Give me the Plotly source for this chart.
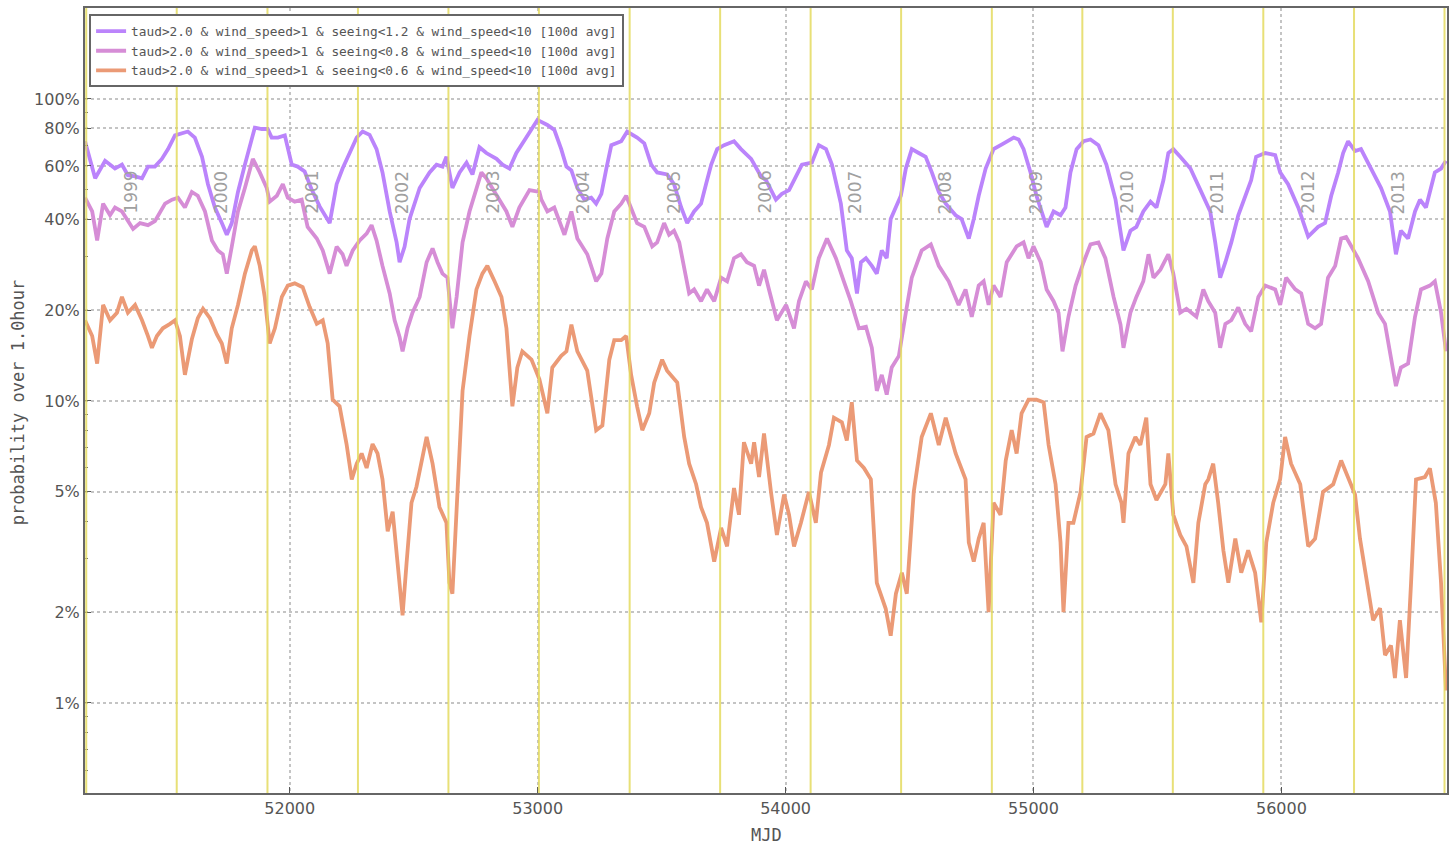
import math
import plotly.graph_objects as go

# ---------------- data ----------------
s1_name = "taud>2.0 & wind_speed>1 & seeing<1.2 & wind_speed<10 [100d avg]"
s2_name = "taud>2.0 & wind_speed>1 & seeing<0.8 & wind_speed<10 [100d avg]"
s3_name = "taud>2.0 & wind_speed>1 & seeing<0.6 & wind_speed<10 [100d avg]"

s1_mjd = [51174, 51215, 51255, 51295, 51323, 51347, 51376, 51404, 51428, 51456, 51484, 51509,
          51537, 51565, 51589, 51617, 51646, 51670, 51698, 51726, 51746, 51766, 51791, 51819,
          51847, 51859, 51887, 51911, 51927, 51952, 51980, 51992, 52008, 52032, 52060, 52089,
          52121, 52161, 52189, 52213, 52242, 52270, 52294, 52322, 52350, 52374, 52403, 52431,
          52443, 52463, 52483, 52524, 52564, 52592, 52616, 52632, 52656, 52685, 52713, 52737,
          52765, 52793, 52834, 52858, 52886, 52914, 52954, 52999, 53039, 53067, 53095, 53116,
          53136, 53160, 53188, 53216, 53236, 53257, 53277, 53297, 53337, 53361, 53401, 53430,
          53458, 53482, 53522, 53550, 53579, 53603, 53631, 53659, 53679, 53700, 53724, 53752,
          53792, 53820, 53861, 53901, 53921, 53961, 53985, 54014, 54042, 54066, 54106, 54134,
          54163, 54187, 54223, 54247, 54267, 54288, 54304, 54324, 54348, 54368, 54388, 54408,
          54424, 54445, 54465, 54485, 54509, 54537, 54565, 54590, 54618, 54646, 54686, 54710,
          54739, 54759, 54779, 54807, 54839, 54880, 54920, 54940, 54960, 54988, 55012, 55053,
          55081, 55109, 55129, 55149, 55174, 55202, 55230, 55262, 55294, 55331, 55351, 55363,
          55391, 55415, 55443, 55472, 55496, 55524, 55544, 55564, 55592, 55633, 55673, 55713,
          55733, 55753, 55774, 55798, 55826, 55854, 55878, 55898, 55935, 55975, 55995, 56027,
          56068, 56108, 56148, 56176, 56201, 56229, 56249, 56269, 56297, 56321, 56362, 56402,
          56438, 56462, 56482, 56511, 56539, 56559, 56583, 56619, 56644, 56664]
s1_pct = [72.4, 54.6, 62.4, 58.8, 60.6, 55.9, 55.4, 54.6, 59.7, 59.7, 63.3, 68.2,
          75.7, 77.0, 78.0, 74.5, 64.3, 52.2, 43.7, 38.8, 35.5, 38.8, 49.2, 60.6,
          74.5, 80.3, 79.5, 79.5, 74.5, 74.5, 75.7, 68.2, 60.6, 59.7, 57.5, 50.0,
          44.0, 38.8, 52.2, 58.8, 66.2, 74.5, 78.0, 76.0, 68.2, 57.1, 42.4, 33.5,
          28.8, 32.4, 40.0, 50.7, 57.1, 60.6, 59.7, 64.3, 50.7, 57.1, 61.5, 56.2,
          69.2, 66.2, 63.3, 60.6, 58.8, 66.2, 74.5, 85.2, 82.0, 79.0, 68.2, 59.7,
          58.0, 50.7, 46.4, 47.1, 45.0, 48.5, 58.8, 70.3, 72.4, 78.0, 74.5, 71.3,
          60.6, 57.1, 56.2, 52.2, 43.7, 38.8, 42.4, 45.0, 52.2, 60.6, 68.2, 70.3,
          72.4, 68.2, 63.3, 55.4, 53.8, 46.4, 48.5, 49.9, 55.4, 60.6, 61.5, 70.3,
          68.2, 60.6, 45.0, 31.5, 29.7, 22.7, 28.8, 29.7, 28.0, 26.4, 31.5, 29.7,
          40.0, 43.7, 47.8, 58.8, 68.2, 66.2, 64.3, 57.1, 49.2, 45.0, 41.2, 40.0,
          34.5, 40.0, 47.8, 58.8, 68.2, 71.3, 74.5, 73.4, 68.2, 57.1, 47.8, 37.7,
          42.4, 41.2, 43.7, 57.1, 68.2, 72.4, 73.4, 70.3, 60.6, 46.4, 36.6, 31.5,
          36.6, 37.7, 42.4, 45.7, 43.7, 53.8, 66.2, 68.2, 64.3, 58.8, 50.0, 42.4,
          33.5, 25.6, 28.8, 33.5, 41.2, 47.8, 53.8, 64.3, 66.2, 65.2, 57.1, 52.2,
          43.7, 35.0, 37.7, 38.8, 47.8, 57.1, 66.2, 72.4, 67.2, 68.2, 58.8, 50.7,
          42.4, 30.6, 36.6, 34.5, 42.4, 46.4, 43.7, 57.1, 58.8, 62.4]

s2_mjd = [51174, 51203, 51223, 51247, 51275, 51295, 51323, 51343, 51368, 51396, 51428, 51456,
          51497, 51525, 51549, 51577, 51605, 51629, 51658, 51686, 51710, 51730, 51746, 51766,
          51791, 51819, 51851, 51879, 51907, 51919, 51948, 51972, 51992, 52020, 52048, 52072,
          52109, 52133, 52161, 52189, 52213, 52229, 52254, 52282, 52310, 52330, 52350, 52374,
          52403, 52423, 52443, 52455, 52475, 52495, 52524, 52552, 52576, 52596, 52616, 52636,
          52656, 52673, 52697, 52725, 52753, 52773, 52793, 52834, 52874, 52898, 52926, 52967,
          53007, 53015, 53039, 53067, 53108, 53136, 53160, 53200, 53236, 53257, 53281, 53309,
          53337, 53357, 53377, 53401, 53430, 53462, 53482, 53510, 53530, 53550, 53571, 53591,
          53611, 53631, 53659, 53683, 53712, 53740, 53764, 53792, 53820, 53844, 53873, 53893,
          53913, 53933, 53965, 54002, 54034, 54054, 54082, 54106, 54134, 54167, 54203, 54235,
          54263, 54296, 54324, 54348, 54368, 54388, 54408, 54428, 54457, 54485, 54509, 54549,
          54586, 54618, 54658, 54698, 54726, 54751, 54779, 54799, 54819, 54839, 54867, 54892,
          54932, 54960, 54980, 55000, 55029, 55053, 55081, 55101, 55117, 55141, 55170, 55202,
          55230, 55262, 55290, 55323, 55351, 55363, 55391, 55415, 55443, 55464, 55484, 55512,
          55544, 55564, 55592, 55617, 55657, 55685, 55705, 55733, 55753, 55774, 55798, 55826,
          55854, 55878, 55907, 55935, 55975, 55995, 56019, 56056, 56080, 56108, 56136, 56160,
          56188, 56217, 56241, 56261, 56281, 56309, 56350, 56390, 56418, 56442, 56462, 56482,
          56511, 56539, 56563, 56599, 56619, 56644, 56664]
s2_pct = [47.1, 42.4, 34.0, 45.0, 41.2, 43.7, 42.4, 40.0, 37.1, 38.8, 38.2, 39.4,
          45.0, 46.4, 47.1, 43.7, 49.2, 47.8, 42.4, 34.0, 31.5, 30.6, 26.4, 32.4,
          42.4, 50.7, 63.3, 57.1, 50.7, 45.7, 47.8, 52.2, 47.1, 45.7, 46.4, 37.7,
          34.5, 31.5, 26.4, 32.4, 30.6, 28.0, 31.5, 34.0, 35.8, 38.2, 34.0, 28.0,
          22.7, 18.5, 16.3, 14.6, 17.4, 19.6, 22.1, 28.8, 32.0, 28.8, 26.4, 25.6,
          17.4, 22.1, 33.5, 42.4, 50.7, 57.1, 54.6, 47.8, 42.4, 37.7, 43.7, 49.9,
          49.2, 46.4, 42.4, 43.7, 35.5, 42.4, 34.5, 30.6, 24.9, 26.4, 34.5, 42.4,
          45.0, 47.8, 43.7, 38.8, 37.7, 32.5, 33.5, 38.8, 35.5, 36.6, 33.5, 28.0,
          22.7, 23.4, 21.4, 23.4, 21.4, 25.6, 24.9, 29.7, 30.6, 28.8, 28.0, 24.1,
          27.2, 23.4, 18.5, 20.8, 17.4, 21.4, 24.9, 23.4, 29.7, 34.5, 29.7, 24.9,
          21.4, 17.4, 17.6, 15.0, 10.8, 12.2, 10.5, 12.9, 14.1, 19.6, 25.6, 31.5,
          33.0, 28.0, 24.9, 20.8, 23.4, 19.0, 24.1, 24.9, 20.8, 24.1, 22.1, 28.8,
          32.5, 33.5, 29.7, 32.5, 28.8, 23.4, 21.4, 19.6, 14.6, 19.0, 24.1, 28.8,
          33.0, 33.5, 29.7, 22.1, 17.9, 15.0, 19.6, 22.1, 24.9, 30.6, 25.6, 27.2,
          30.6, 26.4, 19.6, 20.2, 19.0, 23.4, 21.4, 19.6, 15.0, 18.0, 18.5, 20.4,
          18.0, 17.0, 22.1, 24.1, 23.4, 20.8, 25.6, 23.4, 22.7, 18.0, 17.4, 18.0,
          25.6, 28.0, 34.5, 34.9, 32.5, 29.7, 24.9, 19.6, 18.0, 14.1, 11.2, 12.9,
          13.3, 19.0, 23.4, 24.1, 24.9, 19.6, 14.6]

s3_mjd = [51174, 51203, 51223, 51247, 51275, 51303, 51323, 51347, 51376, 51404, 51428, 51444,
          51464, 51488, 51517, 51537, 51557, 51577, 51605, 51629, 51650, 51678, 51706, 51726,
          51746, 51766, 51791, 51819, 51847, 51859, 51879, 51899, 51919, 51940, 51968, 51992,
          52020, 52052, 52080, 52109, 52133, 52153, 52173, 52201, 52229, 52250, 52270, 52290,
          52310, 52334, 52354, 52374, 52395, 52415, 52435, 52455, 52471, 52491, 52511, 52536,
          52552, 52576, 52604, 52632, 52644, 52656, 52677, 52697, 52725, 52753, 52777, 52797,
          52826, 52854, 52874, 52898, 52918, 52938, 52975, 53007, 53039, 53059, 53095, 53116,
          53136, 53160, 53200, 53236, 53261, 53289, 53309, 53337, 53357, 53377, 53401, 53422,
          53450, 53470, 53502, 53522, 53563, 53591, 53611, 53639, 53659, 53683, 53712, 53740,
          53764, 53792, 53812, 53832, 53861, 53873, 53893, 53913, 53941, 53965, 53994, 54014,
          54034, 54062, 54094, 54122, 54143, 54175, 54195, 54227, 54247, 54267, 54288, 54316,
          54344, 54368, 54404, 54424, 54445, 54469, 54489, 54517, 54549, 54586, 54618, 54646,
          54686, 54726, 54739, 54759, 54779, 54799, 54819, 54839, 54867, 54888, 54912, 54932,
          54952, 54980, 55012, 55041, 55061, 55089, 55109, 55121, 55141, 55161, 55190, 55214,
          55242, 55270, 55302, 55331, 55355, 55363, 55383, 55411, 55431, 55455, 55472, 55496,
          55532, 55544, 55564, 55592, 55617, 55645, 55665, 55693, 55705, 55725, 55745, 55766,
          55786, 55814, 55838, 55866, 55894, 55919, 55939, 55967, 55995, 56015, 56039, 56076,
          56108, 56136, 56168, 56209, 56241, 56269, 56297, 56317, 56341, 56370, 56398, 56418,
          56442, 56458, 56478, 56503, 56523, 56543, 56579, 56599, 56623, 56644, 56664]
s3_pct = [18.5, 16.4, 13.3, 20.8, 18.5, 19.6, 22.1, 19.6, 20.8, 18.5, 16.4, 15.0,
          16.4, 17.4, 18.0, 18.5, 16.4, 12.2, 16.0, 18.8, 20.2, 18.8, 16.6, 15.5,
          13.3, 17.4, 20.8, 26.4, 31.5, 32.5, 28.0, 22.1, 15.5, 17.4, 22.1, 24.1,
          24.5, 23.8, 20.5, 18.0, 18.5, 15.5, 10.1, 9.6, 7.2, 5.5, 6.2, 6.7,
          6.0, 7.2, 6.7, 5.5, 3.7, 4.3, 2.9, 1.95, 2.9, 4.6, 5.2, 6.5,
          7.6, 6.2, 4.45, 3.95, 2.5, 2.3, 5.3, 10.8, 16.4, 23.4, 26.4, 28.0,
          24.9, 22.1, 17.4, 9.6, 12.9, 14.6, 13.7, 11.8, 9.1, 12.9, 14.1, 14.6,
          17.9, 14.6, 12.6, 8.0, 8.3, 13.7, 15.9, 15.9, 16.4, 12.2, 9.6, 8.0,
          9.1, 11.5, 13.7, 12.6, 11.5, 7.6, 6.2, 5.3, 4.45, 3.95, 2.94, 3.8,
          3.3, 5.15, 4.2, 7.3, 6.2, 7.3, 5.6, 7.8, 5.0, 3.6, 4.9, 4.2,
          3.3, 3.95, 5.0, 3.95, 5.8, 7.15, 8.8, 8.5, 7.4, 9.9, 6.35, 6.0,
          5.5, 2.5, 2.05, 1.67, 2.3, 2.7, 2.3, 5.0, 7.6, 9.1, 7.15, 8.8,
          6.7, 5.5, 3.4, 2.94, 3.5, 3.95, 2.0, 4.6, 4.2, 6.35, 8.0, 6.7,
          9.1, 10.1, 10.1, 9.9, 7.15, 5.3, 3.4, 2.0, 3.95, 3.95, 5.0, 7.6,
          7.8, 9.1, 8.0, 5.3, 4.6, 3.95, 6.7, 7.6, 7.15, 8.8, 5.3, 4.7,
          5.3, 6.7, 4.2, 3.6, 3.3, 2.5, 3.95, 5.3, 5.5, 6.2, 4.6, 3.2,
          2.5, 3.5, 2.7, 3.2, 2.7, 1.85, 3.4, 4.6, 5.5, 7.6, 6.2, 5.3,
          3.3, 3.5, 5.0, 5.3, 6.35, 5.6, 4.9, 3.5, 2.6, 1.88, 2.06, 1.44,
          1.55, 1.21, 1.88, 1.21, 2.5, 5.5, 5.6, 5.98, 4.6, 2.5, 1.1]

# year boundaries (MJD of Jan 1) and year labels
year_start_mjd = [51179, 51544, 51910, 52275, 52640, 53005, 53371, 53736, 54101,
                  54466, 54832, 55197, 55562, 55927, 56293, 56658]
year_labels = ["1999", "2000", "2001", "2002", "2003", "2004", "2005", "2006",
               "2007", "2008", "2009", "2010", "2011", "2012", "2013"]

x_ticks = [52000, 53000, 54000, 55000, 56000]
x_ticktext = ["52000", "53000", "54000", "55000", "56000"]
y_ticks = [1, 2, 5, 10, 20, 40, 60, 80, 100]
y_ticktext = ["1%", "2%", "5%", "10%", "20%", "40%", "60%", "80%", "100%"]
y_minor = [0.6, 0.7, 0.8, 0.9, 3, 4, 6, 7, 8, 9, 30, 50, 70, 90, 200]

colors = ["#bb84fb", "#d68dd6", "#eb9a76"]

# ---------------- figure ----------------
fig = go.Figure()
for mjd, pct, name, col in [(s1_mjd, s1_pct, s1_name, colors[0]),
                            (s2_mjd, s2_pct, s2_name, colors[1]),
                            (s3_mjd, s3_pct, s3_name, colors[2])]:
    fig.add_trace(go.Scatter(x=mjd, y=pct, mode="lines", name=name,
                             line=dict(color=col, width=3.8)))

shapes = []
for m in year_start_mjd:
    shapes.append(dict(type="line", xref="x", yref="paper", x0=m, x1=m, y0=0, y1=1,
                       line=dict(color="rgba(228,218,95,0.85)", width=2), layer="above"))

annotations = []
for i, lab in enumerate(year_labels):
    annotations.append(dict(x=year_start_mjd[i] + 181, y=math.log10(49), xref="x", yref="y",
                            text=lab, textangle=-90, showarrow=False,
                            font=dict(family="DejaVu Sans", size=17, color="#a0a0a0")))
annotations.append(dict(x=-0.049, y=0.498, xref="paper", yref="paper",
                        xanchor="center", yanchor="middle",
                        text="probability over 1.0hour", textangle=-90, showarrow=False,
                        font=dict(family="DejaVu Sans Mono", size=17, color="#555555")))
annotations.append(dict(x=0.5007, y=-0.0535, xref="paper", yref="paper",
                        xanchor="center", yanchor="middle",
                        text="MJD", showarrow=False,
                        font=dict(family="DejaVu Sans Mono", size=17, color="#555555")))

fig.update_layout(
    width=1449, height=846,
    margin=dict(l=85, r=0, t=8, b=53),
    paper_bgcolor="white", plot_bgcolor="white",
    shapes=shapes, annotations=annotations,
    showlegend=True,
    legend=dict(x=0.003, y=0.992, xanchor="left", yanchor="top",
                bgcolor="white", bordercolor="#666666", borderwidth=2,
                font=dict(family="DejaVu Sans Mono", size=12.8, color="#555555"),
                itemwidth=30),
    xaxis=dict(range=[51174, 56668], tickmode="array", tickvals=x_ticks,
               ticktext=x_ticktext, ticks="inside", ticklen=6,
               tickcolor="#555555", showline=True, mirror=True, linecolor="#666666",
               linewidth=2, showgrid=True, gridcolor="#c4c4c4", griddash="dot",
               gridwidth=1.5, zeroline=False,
               tickfont=dict(family="DejaVu Sans", size=16, color="#555555")),
    yaxis=dict(type="log", range=[-0.298, 2.301], tickmode="array", tickvals=y_ticks,
               ticktext=y_ticktext, ticks="inside", ticklen=6, tickcolor="#555555",
               showline=True, mirror=True, linecolor="#666666", linewidth=2,
               showgrid=True, gridcolor="#c4c4c4", griddash="dot", gridwidth=1.5,
               zeroline=False,
               minor=dict(tickmode="array", tickvals=y_minor, ticks="inside", ticklen=3,
                          tickcolor="#666666", showgrid=False),
               tickfont=dict(family="DejaVu Sans", size=16, color="#555555")),
)

fig.write_html("out.html")
